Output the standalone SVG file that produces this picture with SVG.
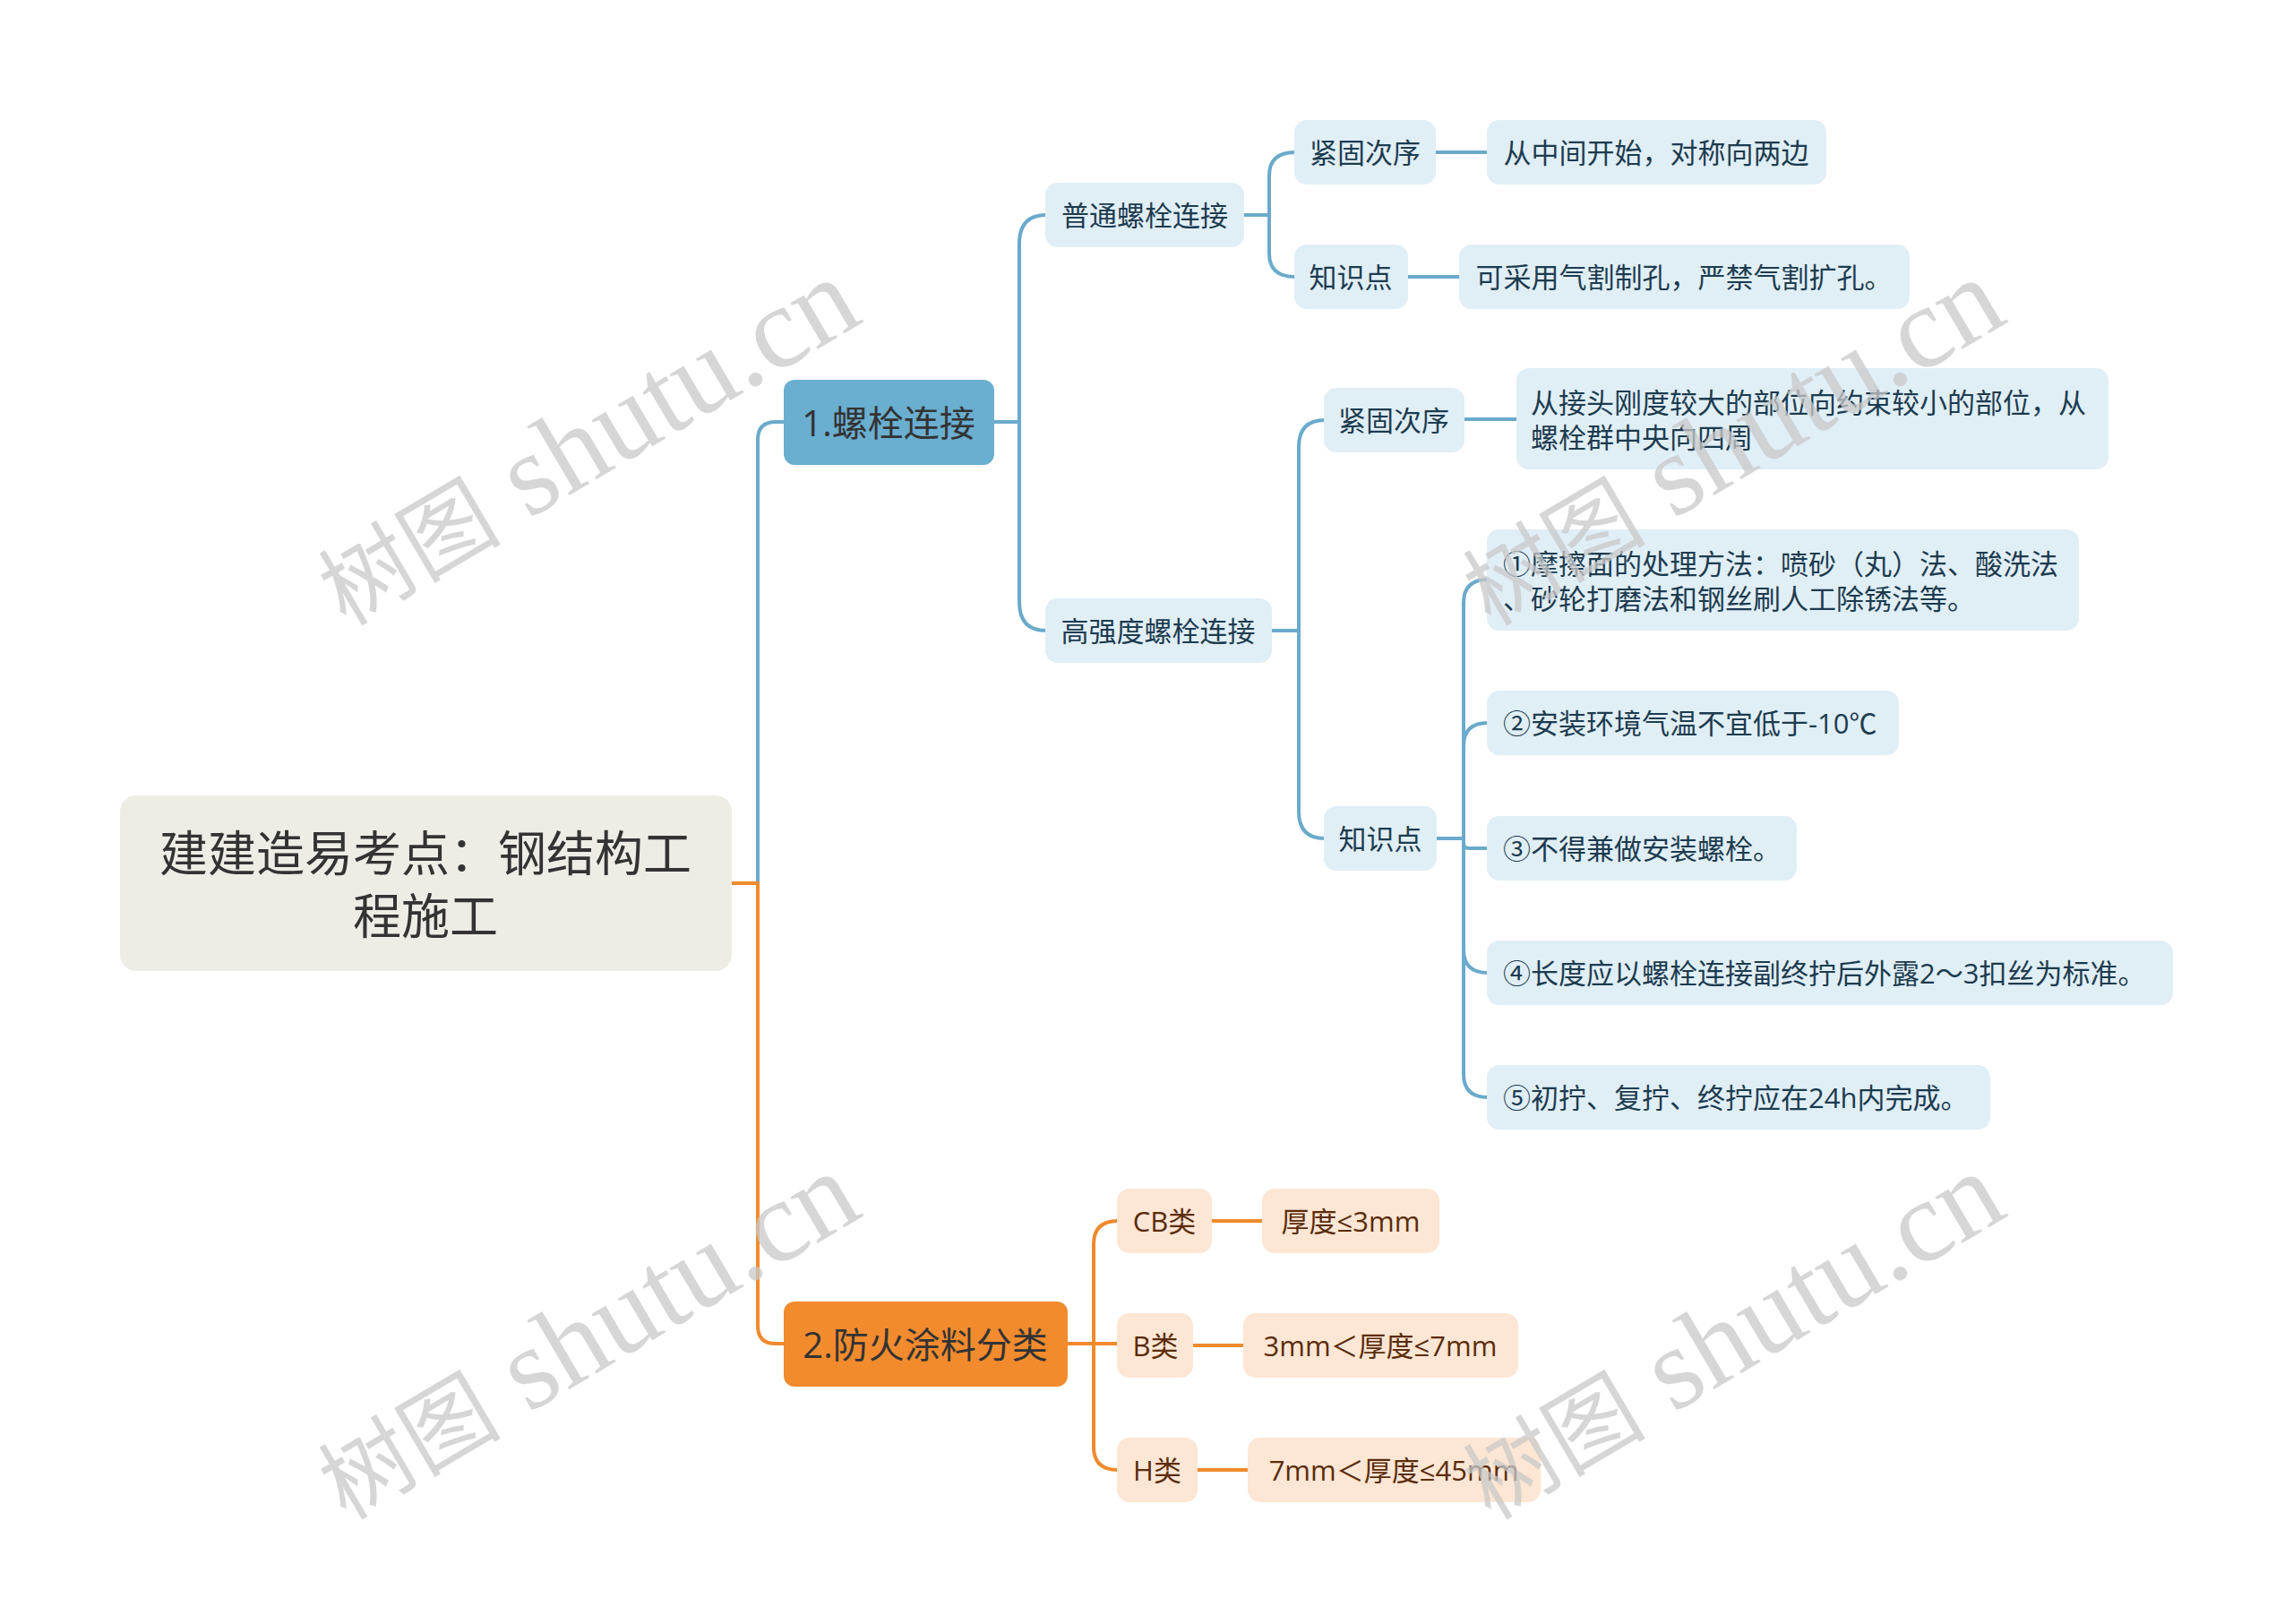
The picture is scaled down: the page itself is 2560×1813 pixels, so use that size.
<svg xmlns="http://www.w3.org/2000/svg" width="2560" height="1813" viewBox="0 0 2560 1813">
<style>
text{font-family:"Open Sans","Noto Sans CJK SC",sans-serif;dominant-baseline:central}
.root rect{fill:#eeede5}
.root text{fill:#333;font-size:54px;text-anchor:middle}
.l1b rect{fill:#6aaed0}
.l1o rect{fill:#f28b2e}
.l1b text,.l1o text{fill:#333;font-size:40px;text-anchor:middle}
.nb rect{fill:#e0eef6}
.nb text{fill:#1d3b4f;font-size:31px}
.no rect{fill:#fde6d4}
.no text{fill:#5a2c0c;font-size:31px}
.c{text-anchor:middle}
.cb{fill:none;stroke:#6aaacb;stroke-width:4}
.co{fill:none;stroke:#f08a2c;stroke-width:4}
.wm{font-family:"Liberation Serif","Noto Sans CJK SC",serif;font-size:130px;fill:#c8c8c8;fill-opacity:0.75;dominant-baseline:auto}
.wm .z{font-size:102px}
</style>
<rect width="2560" height="1813" fill="#fff"/>
<g id="connectors">
<path class="cb" stroke-width="5" d="M846,986 V491 Q846,471 866,471 H876"/>
<path class="co" stroke-width="5" d="M816,986 H846 V1480 Q846,1500 866,1500 H876"/>
<path class="cb" d="M1110,471 H1138 M1138,471 V272 Q1138,240 1168,240 M1138,471 V672 Q1138,704 1168,704"/>
<path class="cb" d="M1389,240 H1417 M1417,240 V196 Q1417,170 1446,170 M1417,240 V283 Q1417,309 1446,309"/>
<path class="cb" d="M1603,170 H1661 M1572,309 H1630"/>
<path class="cb" d="M1420,704 H1450 M1450,704 V499 Q1450,469 1479,469 M1450,704 V906 Q1450,936 1479,936"/>
<path class="cb" d="M1635,468 H1694"/>
<path class="cb" d="M1604,936 H1634 M1634,936 V673 Q1634,647 1661,647 M1634,936 V833 Q1634,807 1661,807 M1634,936 V941 Q1634,947 1640,947 H1661 M1634,936 V1060 Q1634,1086 1661,1086 M1634,936 V1199 Q1634,1225 1661,1225"/>
<path class="co" d="M1192,1500 H1248 M1221,1500 V1389 Q1221,1363 1248,1363 M1221,1500 V1615 Q1221,1641 1248,1641"/>
<path class="co" d="M1353,1363 H1410 M1332,1502 H1389 M1337,1641 H1394"/>
</g>
<g id="root" class="root"><rect x="134" y="888" width="683" height="196" rx="18"/><text x="475" y="952">建建造易考点：钢结构工</text><text x="475" y="1022">程施工</text></g>
<g id="n1" class="l1b"><rect x="875" y="424" width="235" height="95" rx="12"/><text x="992" y="471">1.螺栓连接</text></g>
<g id="n2" class="l1o"><rect x="875" y="1453" width="317" height="95" rx="12"/><text x="1033" y="1500">2.防火涂料分类</text></g>
<g id="n1a" class="nb"><rect x="1167" y="204" width="222" height="72" rx="14"/><text class="c" x="1278" y="240">普通螺栓连接</text></g>
<g id="n1b" class="nb"><rect x="1167" y="668" width="253" height="72" rx="14"/><text class="c" x="1293" y="704">高强度螺栓连接</text></g>
<g id="n1a1" class="nb"><rect x="1445" y="134" width="158" height="72" rx="14"/><text class="c" x="1524" y="170">紧固次序</text></g>
<g id="n1a2" class="nb"><rect x="1445" y="273" width="127" height="72" rx="14"/><text class="c" x="1508" y="309">知识点</text></g>
<g id="n1a1x" class="nb"><rect x="1660" y="134" width="379" height="72" rx="14"/><text class="c" x="1849" y="170">从中间开始，对称向两边</text></g>
<g id="n1a2x" class="nb"><rect x="1629" y="273" width="503" height="72" rx="14"/><text class="c" x="1880" y="309">可采用气割制孔，严禁气割扩孔。</text></g>
<g id="n1b1" class="nb"><rect x="1478" y="433" width="157" height="72" rx="14"/><text class="c" x="1556" y="469">紧固次序</text></g>
<g id="n1b2" class="nb"><rect x="1478" y="900" width="126" height="72" rx="14"/><text class="c" x="1541" y="936">知识点</text></g>
<g id="n1b1x" class="nb"><rect x="1693" y="411" width="661" height="113" rx="14"/><text x="1709" y="449">从接头刚度较大的部位向约束较小的部位，从</text><text x="1709" y="488">螺栓群中央向四周</text></g>
<g id="k1" class="nb"><rect x="1660" y="591" width="661" height="113" rx="14"/><text x="1678" y="629">①摩擦面的处理方法：喷砂（丸）法、酸洗法</text><text x="1678" y="668">、砂轮打磨法和钢丝刷人工除锈法等。</text></g>
<g id="k2" class="nb"><rect x="1660" y="771" width="460" height="72" rx="14"/><text x="1678" y="807">②安装环境气温不宜低于-10℃</text></g>
<g id="k3" class="nb"><rect x="1660" y="911" width="346" height="72" rx="14"/><text x="1678" y="947">③不得兼做安装螺栓。</text></g>
<g id="k4" class="nb"><rect x="1660" y="1050" width="766" height="72" rx="14"/><text x="1678" y="1086">④长度应以螺栓连接副终拧后外露2～3扣丝为标准。</text></g>
<g id="k5" class="nb"><rect x="1660" y="1189" width="562" height="72" rx="14"/><text x="1678" y="1225">⑤初拧、复拧、终拧应在24h内完成。</text></g>
<g id="o1" class="no"><rect x="1247" y="1327" width="106" height="72" rx="14"/><text class="c" x="1300" y="1363">CB类</text></g>
<g id="o2" class="no"><rect x="1247" y="1466" width="85" height="72" rx="14"/><text class="c" x="1290" y="1502">B类</text></g>
<g id="o3" class="no"><rect x="1247" y="1605" width="90" height="72" rx="14"/><text class="c" x="1292" y="1641">H类</text></g>
<g id="o1x" class="no"><rect x="1409" y="1327" width="198" height="72" rx="14"/><text class="c" x="1508" y="1363">厚度≤3mm</text></g>
<g id="o2x" class="no"><rect x="1388" y="1466" width="307" height="72" rx="14"/><text class="c" x="1541" y="1502">3mm＜厚度≤7mm</text></g>
<g id="o3x" class="no"><rect x="1393" y="1605" width="327" height="72" rx="14"/><text class="c" x="1556" y="1641">7mm＜厚度≤45mm</text></g>
<g id="watermarks">
<text class="wm" transform="translate(386,700) rotate(-30.5)"><tspan class="z">树图</tspan> shutu.cn</text>
<text class="wm" transform="translate(386,1698) rotate(-30.5)"><tspan class="z">树图</tspan> shutu.cn</text>
<text class="wm" transform="translate(1664,700) rotate(-30.5)"><tspan class="z">树图</tspan> shutu.cn</text>
<text class="wm" transform="translate(1664,1698) rotate(-30.5)"><tspan class="z">树图</tspan> shutu.cn</text>
</g>
</svg>
